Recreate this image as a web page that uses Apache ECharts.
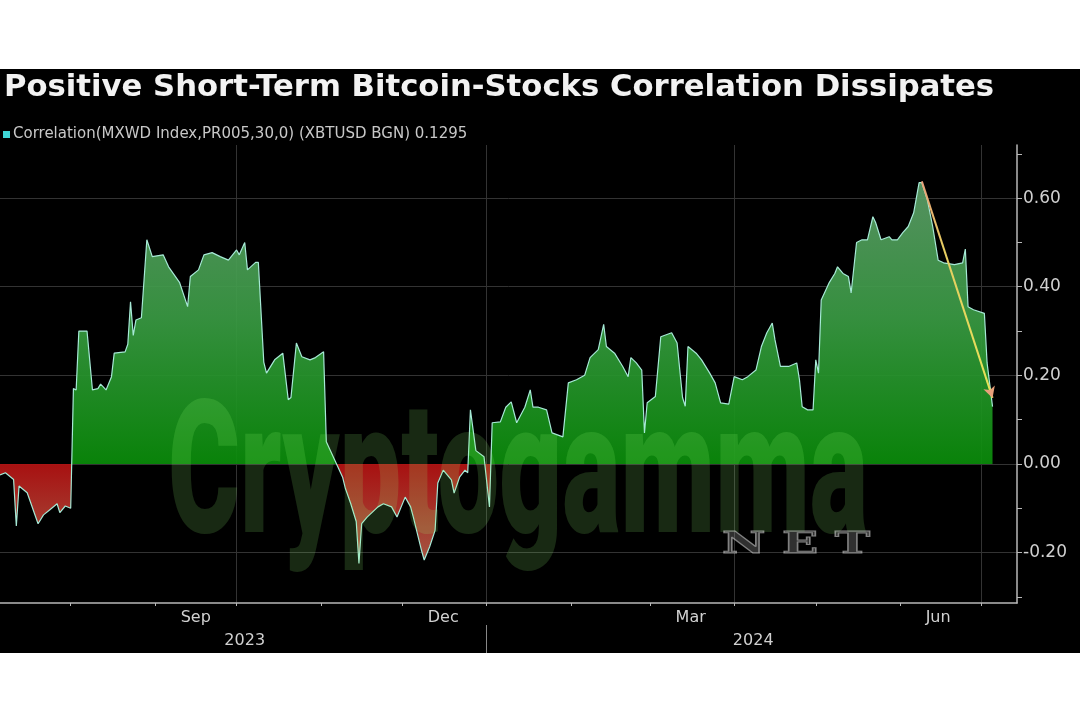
<!DOCTYPE html>
<html><head><meta charset="utf-8">
<script src="https://cdn.jsdelivr.net/npm/echarts@6/dist/echarts.min.js"></script>
<style>
html,body{margin:0;padding:0;background:#fff}
#c{width:1080px;height:720px;background:linear-gradient(to bottom,#fff 0,#fff 69px,#000 69px,#000 653px,#fff 653px,#fff 720px)}
</style>
</head><body><div id="c"></div>
<script>
const TITLE = 'Positive Short-Term Bitcoin-Stocks Correlation Dissipates';
const SERIES_NAME = 'Correlation(MXWD Index,PR005,30,0) (XBTUSD BGN) 0.1295';
const START_DATE = '2023-07-06';
const END_DATE = '2024-07-14';

const dates = ['2023-07-06','2023-07-08','2023-07-10','2023-07-11','2023-07-12','2023-07-13','2023-07-16','2023-07-18','2023-07-20','2023-07-22','2023-07-24','2023-07-27','2023-07-28','2023-07-30',
'2023-08-01','2023-08-02','2023-08-03','2023-08-04','2023-08-07','2023-08-09','2023-08-11','2023-08-12','2023-08-14','2023-08-16','2023-08-17','2023-08-21','2023-08-22','2023-08-23','2023-08-24','2023-08-25','2023-08-27','2023-08-29','2023-08-31',
'2023-09-04','2023-09-06','2023-09-10','2023-09-13','2023-09-14','2023-09-17','2023-09-19','2023-09-22','2023-09-25','2023-09-28',
'2023-10-01','2023-10-02','2023-10-04','2023-10-05','2023-10-08','2023-10-09','2023-10-11','2023-10-12','2023-10-15','2023-10-18','2023-10-20','2023-10-21','2023-10-23','2023-10-25','2023-10-28','2023-10-30',
'2023-11-02','2023-11-03','2023-11-06','2023-11-09','2023-11-10','2023-11-12','2023-11-14','2023-11-15','2023-11-16','2023-11-18','2023-11-22','2023-11-24','2023-11-27','2023-11-29',
'2023-12-02','2023-12-04','2023-12-05','2023-12-08','2023-12-09','2023-12-11','2023-12-13','2023-12-14','2023-12-16','2023-12-19','2023-12-20','2023-12-22','2023-12-24','2023-12-25','2023-12-26','2023-12-28','2023-12-31',
'2024-01-02','2024-01-03','2024-01-06','2024-01-08','2024-01-10','2024-01-12','2024-01-15','2024-01-17','2024-01-18','2024-01-20','2024-01-23','2024-01-25','2024-01-29','2024-01-31',
'2024-02-03','2024-02-06','2024-02-08','2024-02-11','2024-02-13','2024-02-14','2024-02-17','2024-02-20','2024-02-22','2024-02-23','2024-02-25','2024-02-27','2024-02-28','2024-02-29',
'2024-03-03','2024-03-05','2024-03-09','2024-03-11','2024-03-13','2024-03-14','2024-03-15','2024-03-18','2024-03-20','2024-03-23','2024-03-25','2024-03-27','2024-03-30',
'2024-04-01','2024-04-04','2024-04-06','2024-04-09','2024-04-11','2024-04-13','2024-04-15','2024-04-16','2024-04-18','2024-04-21','2024-04-24','2024-04-25','2024-04-26','2024-04-28','2024-04-30',
'2024-05-01','2024-05-02','2024-05-03','2024-05-06','2024-05-08','2024-05-09','2024-05-11','2024-05-13','2024-05-14','2024-05-16','2024-05-18','2024-05-20','2024-05-22','2024-05-23','2024-05-25','2024-05-28','2024-05-29','2024-05-31',
'2024-06-02','2024-06-04','2024-06-06','2024-06-08','2024-06-09','2024-06-11','2024-06-13','2024-06-15','2024-06-17','2024-06-21','2024-06-24','2024-06-25','2024-06-26','2024-06-28',
'2024-07-02','2024-07-03','2024-07-05'];

const values = [-0.025,-0.02,-0.03,-0.035,-0.14,-0.05,-0.065,-0.10,-0.135,-0.115,-0.105,-0.09,-0.11,-0.095,
-0.10,0.17,0.167,0.30,0.30,0.167,0.17,0.18,0.167,0.197,0.25,0.253,0.27,0.366,0.29,0.325,0.33,0.506,0.468,
0.472,0.445,0.41,0.355,0.423,0.438,0.472,0.477,0.468,0.46,
0.483,0.472,0.50,0.438,0.455,0.455,0.23,0.205,0.235,0.25,0.145,0.15,0.273,0.242,0.235,0.24,
0.253,0.05,0.01,-0.03,-0.055,-0.09,-0.13,-0.225,-0.135,-0.12,-0.097,-0.09,-0.097,-0.12,
-0.075,-0.097,-0.12,-0.195,-0.217,-0.187,-0.15,-0.043,-0.014,-0.036,-0.066,-0.03,-0.014,-0.02,0.122,0.03,0.016,
-0.097,0.093,0.095,0.128,0.14,0.093,0.128,0.167,0.128,0.128,0.122,0.07,0.061,0.183,
0.19,0.2,0.24,0.258,0.315,0.265,0.25,0.22,0.197,0.24,0.228,0.212,0.07,0.138,
0.152,0.287,0.296,0.273,0.15,0.13,0.265,0.25,0.235,0.205,0.183,0.138,0.135,
0.197,0.19,0.197,0.212,0.265,0.296,0.318,0.28,0.22,0.22,0.228,0.19,0.129,0.122,0.122,
0.235,0.205,0.37,0.41,0.43,0.445,0.43,0.423,0.386,0.5,0.506,0.506,0.558,0.545,0.506,0.513,0.506,0.506,
0.522,0.536,0.567,0.635,0.635,0.597,0.536,0.46,0.454,0.45,0.454,0.485,0.355,0.348,
0.34,0.228,0.1295];

const monthLabels = {'2023-09-16':'Sep','2023-12-16':'Dec','2024-03-16':'Mar','2024-06-15':'Jun'};
const yearLabels = {'2023-10-04':'2023','2024-04-08':'2024'};
const yLabelStrings = ['-0.20','0.00','0.20','0.40','0.60'];
const yTickValues = [-0.3, -0.2, -0.1, 0, 0.1, 0.2, 0.3, 0.4, 0.5, 0.6, 0.7];
const quarterStarts = ['2023-10-01','2024-01-01','2024-04-01','2024-07-01'];
const yearStarts = ['2024-01-01'];
const arrowFrom = ['2024-06-09', 0.638];
const arrowTo = ['2024-07-05', 0.149];
const Y_MIN = -0.314, Y_MAX = 0.72;

// daily category axis
const categories = [];
(function(){
  const d = new Date(START_DATE + 'T00:00:00Z');
  const end = new Date(END_DATE + 'T00:00:00Z');
  while (d <= end) { categories.push(d.toISOString().slice(0,10)); d.setUTCDate(d.getUTCDate()+1); }
})();

const seriesData = dates.map((d,i)=>[d, values[i]]);

function measure(text, font){ const c=document.createElement('canvas').getContext('2d'); c.font=font; return c.measureText(text).width; }
const wmFont = '900 185px Roboto, "Liberation Sans Narrow", sans-serif';
const wmScale = 700 / measure('Cryptogamma', wmFont);
const netFont = 'bold 30px "DejaVu Serif", serif';
const netScale = 148 / measure('N E T', netFont);

const G = echarts.graphic.LinearGradient;
const FONT = '"DejaVu Sans", sans-serif';
const AXIS_C = '#b8b8b8';
const ARROW_END_C = '#e6e458';

const chart = echarts.init(document.getElementById('c'), null, {renderer:'canvas'});
chart.setOption({
  animation: false,
  backgroundColor: 'transparent',
  title: {
    text: TITLE, left: 4, top: 73, padding: 0,
    textStyle: {color:'#f2f2f2', fontSize: 30.7, fontWeight: 'bold', fontFamily: FONT}
  },
  legend: {
    left: 3, top: 127, padding: 0, itemWidth: 7, itemHeight: 7, itemGap: 10,
    data: [{name: SERIES_NAME, icon: 'rect', itemStyle: {color: '#3fd6d6'}}],
    textStyle: {color: '#c8c8c8', fontSize: 15, fontFamily: FONT, padding: [0,0,0,-2]}
  },
  grid: {left: 0, right: 63, top: 145, bottom: 117, containLabel: false},
  xAxis: [{
    type: 'category', data: categories, boundaryGap: false,
    axisLine: {show: true, onZero: false, lineStyle: {color: AXIS_C, width: 1.5}},
    axisTick: {show: true, length: 3, interval: (i, v) => categories[i].slice(8) === '01', lineStyle: {color: AXIS_C}},
    axisLabel: {show: true, interval: (i, v) => !!monthLabels[categories[i]], formatter: v => monthLabels[v] || '',
      color: '#d0d0d0', fontSize: 16, fontFamily: FONT, margin: 7},
    splitLine: {show: true, interval: (i, v) => quarterStarts.indexOf(categories[i]) >= 0, lineStyle: {color: '#333', width: 1}}
  }, {
    type: 'category', data: categories, boundaryGap: false, position: 'bottom', offset: 22,
    axisLine: {show: false, onZero: false},
    axisTick: {show: true, length: 28, interval: (i, v) => yearStarts.indexOf(categories[i]) >= 0, lineStyle: {color: '#888'}},
    axisLabel: {show: true, interval: (i, v) => !!yearLabels[categories[i]], formatter: v => yearLabels[v] || '',
      color: '#d0d0d0', fontSize: 16, fontFamily: FONT, margin: 8},
    splitLine: {show: false}
  }],
  yAxis: [{
    type: 'value', position: 'right', min: Y_MIN, max: Y_MAX, splitNumber: 5,
    axisLine: {show: false},
    axisTick: {show: false},
    axisLabel: {color: '#d0d0d0', fontSize: 17, fontFamily: FONT, margin: 6,
      formatter: v => { const s = v.toFixed(2); return yLabelStrings.indexOf(s) >= 0 ? s : ''; }},
    splitLine: {show: true, showMinLine: false, showMaxLine: false, lineStyle: {color: '#333', width: 1}}
  }, {
    type: 'value', position: 'right', offset: 0, min: Y_MIN, max: Y_MAX,
    axisLine: {show: true, lineStyle: {color: AXIS_C, width: 1.5}},
    axisTick: {show: true, length: 5, customValues: yTickValues, lineStyle: {color: AXIS_C}},
    axisLabel: {show: false},
    splitLine: {show: false}
  }],
  series: [{
    name: SERIES_NAME, type: 'line', xAxisIndex: 0, yAxisIndex: 0, data: seriesData,
    symbol: 'none', smooth: false,
    lineStyle: {color: '#a6e9d6', width: 1.2},
    itemStyle: {color: '#3fd6d6'},
    areaStyle: {opacity: 0.93, color: new G(0, 181, 0, 566, [
      {offset: 0, color: '#5c9c68'},
      {offset: 0.35, color: '#3a9a44'},
      {offset: 0.735, color: '#0a8c0a'},
      {offset: 0.735, color: '#b41212'},
      {offset: 1, color: '#b0604a'}
    ], true)},
    markLine: {
      silent: true, symbol: ['none', 'arrow'], symbolSize: [9, 11], animation: false,
      label: {show: false},
      lineStyle: {type: 'solid', width: 2, color: new G(922, 182, 993, 398, [
        {offset: 0, color: '#e8a07a'}, {offset: 0.3, color: '#e6cc62'}, {offset: 1, color: ARROW_END_C}], true)},
      emphasis: {disabled: true},
      data: [[{coord: arrowFrom}, {coord: arrowTo, itemStyle: {color: ARROW_END_C}}]]
    }
  }],
  graphic: [{
    type: 'text', x: 168, y: 486, scaleX: wmScale, z: 100, silent: true,
    style: {text: 'Cryptogamma', font: wmFont, fill: 'rgba(150,255,120,0.16)', textAlign: 'left', textVerticalAlign: 'middle'}
  }, {
    type: 'text', x: 722, y: 545, scaleX: netScale, z: 100, silent: true,
    style: {text: 'N E T', font: netFont, fill: 'rgba(160,160,160,0.3)', stroke: 'rgba(225,225,225,0.55)', lineWidth: 1, textAlign: 'left', textVerticalAlign: 'middle'}
  }]
});
</script>
</body></html>
